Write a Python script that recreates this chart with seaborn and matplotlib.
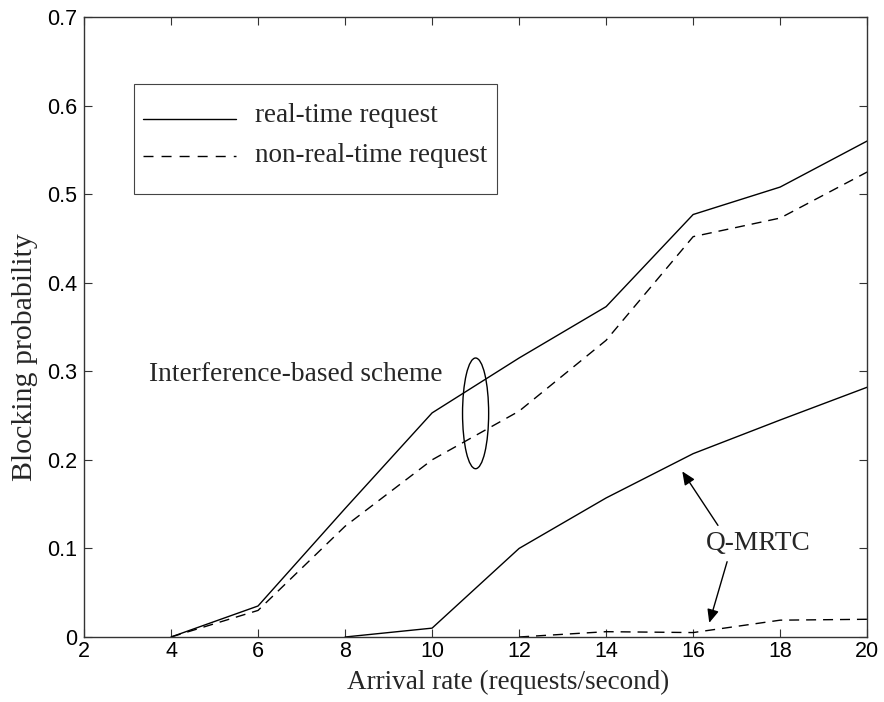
import matplotlib
matplotlib.use("Agg")
import matplotlib.pyplot as plt
from matplotlib.patches import Ellipse, Rectangle
from matplotlib.lines import Line2D
import seaborn as sns

# ---- data ----
x_int = [4, 6, 8, 10, 12, 14, 16, 18, 20]
int_rt = [0.0, 0.035, 0.145, 0.253, 0.315, 0.373, 0.477, 0.508, 0.560]
int_nrt = [0.0, 0.030, 0.125, 0.200, 0.255, 0.335, 0.452, 0.473, 0.525]
x_q_rt = [8, 10, 12, 14, 16, 18, 20]
q_rt = [0.0, 0.010, 0.100, 0.157, 0.207, 0.245, 0.282]
x_q_nrt = [12, 14, 16, 18, 20]
q_nrt = [0.0, 0.006, 0.005, 0.019, 0.020]

legend_labels = ["real-time request", "non-real-time request"]
x_ticks = [2, 4, 6, 8, 10, 12, 14, 16, 18, 20]
y_ticks = [0, 0.1, 0.2, 0.3, 0.4, 0.5, 0.6, 0.7]
y_tick_labels = ["0", "0.1", "0.2", "0.3", "0.4", "0.5", "0.6", "0.7"]

sns.set_style("ticks")
plt.rcParams["font.family"] = ["Liberation Sans", "DejaVu Sans"]

fig = plt.figure(figsize=(8.84, 7.02), dpi=100)
ax = fig.add_axes([0.095, 0.0926, 0.886, 0.8832])

lw = 1.0
dash = (7.2, 5.0)
sns.lineplot(x=x_int, y=int_rt, ax=ax, color="black", lw=lw)
sns.lineplot(x=x_int, y=int_nrt, ax=ax, color="black", lw=lw,
             linestyle=(0, dash))
sns.lineplot(x=x_q_rt, y=q_rt, ax=ax, color="black", lw=lw)
sns.lineplot(x=x_q_nrt, y=q_nrt, ax=ax, color="black", lw=lw,
             linestyle=(0, dash))

ax.set_xlim(2, 20)
ax.set_ylim(0, 0.7)
ax.set_xticks(x_ticks)
ax.set_xticklabels([str(t) for t in x_ticks])
ax.set_yticks(y_ticks)
ax.set_yticklabels(y_tick_labels)
ax.tick_params(direction="in", length=6, width=0.8, labelsize=15.5,
               top=True, right=True, colors="#333333", labelcolor="black")
ax.tick_params(axis="x", pad=3)
ax.tick_params(axis="y", pad=5)
for s in ax.spines.values():
    s.set_color("#333333")
    s.set_linewidth(1.0)

serif = ["Liberation Serif", "DejaVu Serif"]
ax.set_xlabel("Arrival rate (requests/second)", family=serif, fontsize=19.5)
ax.xaxis.set_label_coords(0.3359, -0.0839)
ax.xaxis.label.set_verticalalignment("baseline")
ax.xaxis.label.set_horizontalalignment("left")
ax.set_ylabel("Blocking probability", family=serif, fontsize=21.5)
ax.yaxis.set_label_coords(-0.0754, 0.4508)
ax.yaxis.label.set_verticalalignment("center")

# legend (boxed, drawn in axes-fraction coordinates)
tr = ax.transAxes
ax.add_patch(Rectangle((0.0639, 0.7145), 0.4636, 0.1775, transform=tr,
                       fill=True, facecolor="white", edgecolor="#444444",
                       lw=0.8, zorder=5))
leg_y_line = [0.8355, 0.7758]
leg_y_text = [0.8306, 0.7661]
leg_styles = ["-", (0, (7.2, 5.8))]
for lab, yl, yt, ls in zip(legend_labels, leg_y_line, leg_y_text, leg_styles):
    ax.add_line(Line2D([0.0754, 0.1941], [yl, yl], transform=tr,
                       color="black", lw=lw, linestyle=ls, zorder=6))
    ax.text(0.2184, yt, lab, transform=tr, family=serif, fontsize=19.5,
            va="baseline", ha="left", zorder=6)

# annotations
ax.text(3.5, 0.296, "Interference-based scheme", family=serif, fontsize=19.7,
        va="center", ha="left")
ax.add_patch(Ellipse((11.0, 0.2525), 0.6, 0.125, fill=False, color="black",
                     lw=1.0))
ax.text(16.3, 0.106, "Q-MRTC", family=serif, fontsize=19.7, va="center",
        ha="left")
arrowprops = dict(arrowstyle="-|>,head_length=0.8,head_width=0.35",
                  color="black", lw=1.0, shrinkA=0, shrinkB=0)
ax.annotate("", xy=(15.75, 0.187), xytext=(16.57, 0.126),
            arrowprops=arrowprops)
ax.annotate("", xy=(16.37, 0.016), xytext=(16.78, 0.085),
            arrowprops=arrowprops)

fig.savefig("out.png", dpi=100)
